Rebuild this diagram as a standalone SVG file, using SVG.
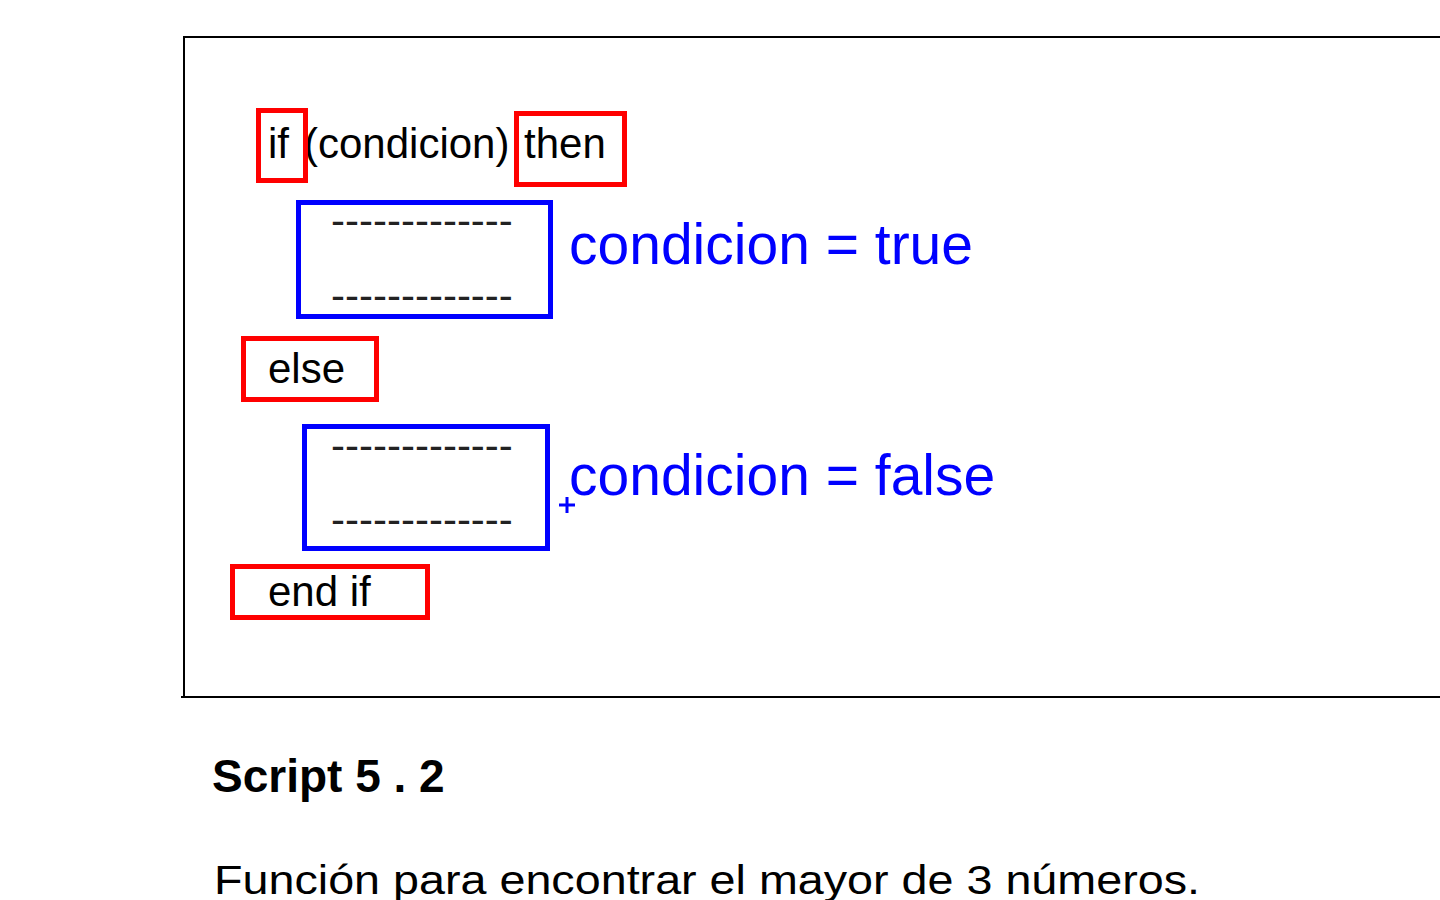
<svg xmlns="http://www.w3.org/2000/svg" width="1440" height="900" viewBox="0 0 1440 900">
<style>
.code{font-family:"Liberation Sans",Arial,sans-serif;font-size:42px;fill:#000}
.dash{font-family:"Liberation Sans",Arial,sans-serif;font-size:42px;fill:#222}
.kw{fill:none;stroke:#ff0000;stroke-width:5}
.blk{fill:none;stroke:#0000ff;stroke-width:5}
.lbl{font-family:"Liberation Sans",Arial,sans-serif;font-size:57px;fill:#0000ff}
.frame{stroke:#000;stroke-width:2;fill:none}
</style>
<rect width="1440" height="900" fill="#fff"/>
<g id="frame">
<line class="frame" x1="183" y1="37" x2="1440" y2="37"/>
<line class="frame" x1="184" y1="37" x2="184" y2="697"/>
<line class="frame" x1="181" y1="697" x2="1440" y2="697"/>
</g>
<g id="if-line">
<text class="code" x="268" y="158">if</text>
<text class="code" x="304" y="158">(condicion)</text>
<text class="code" x="524" y="158">then</text>
<rect class="kw" x="258.5" y="110.5" width="47" height="70"/>
<rect class="kw" x="516.5" y="113.5" width="108" height="71"/>
</g>
<g id="block-true">
<rect class="blk" x="298.5" y="202.5" width="252" height="114"/>
<text class="dash" x="331" y="235">-------------</text>
<text class="dash" x="331" y="310">-------------</text>
</g>
<g id="label-true"><text class="lbl" x="569" y="264">condicion = true</text></g>
<g id="else">
<rect class="kw" x="243.5" y="338.5" width="133" height="61"/>
<text class="code" x="268" y="383">else</text>
</g>
<g id="block-false">
<rect class="blk" x="304.5" y="426.5" width="243" height="122"/>
<text class="dash" x="331" y="460">-------------</text>
<text class="dash" x="331" y="534">-------------</text>
</g>
<g id="label-false">
<text class="lbl" x="569" y="495">condicion = false</text>
<path d="M559 505H575M567 497V513" stroke="#0000ff" stroke-width="3" fill="none"/>
</g>
<g id="endif">
<rect class="kw" x="232.5" y="566.5" width="195" height="51"/>
<text class="code" x="268" y="606">end if</text>
</g>
<g id="connectors"></g>
<g id="caption">
<text x="212" y="792" font-family="'Liberation Sans',Arial,sans-serif" font-size="46" font-weight="bold">Script 5 . 2</text>
<text x="214" y="894" font-family="'Liberation Sans',Arial,sans-serif" font-size="41" textLength="986" lengthAdjust="spacingAndGlyphs">Función para encontrar el mayor de 3 números.</text>
</g>
</svg>
